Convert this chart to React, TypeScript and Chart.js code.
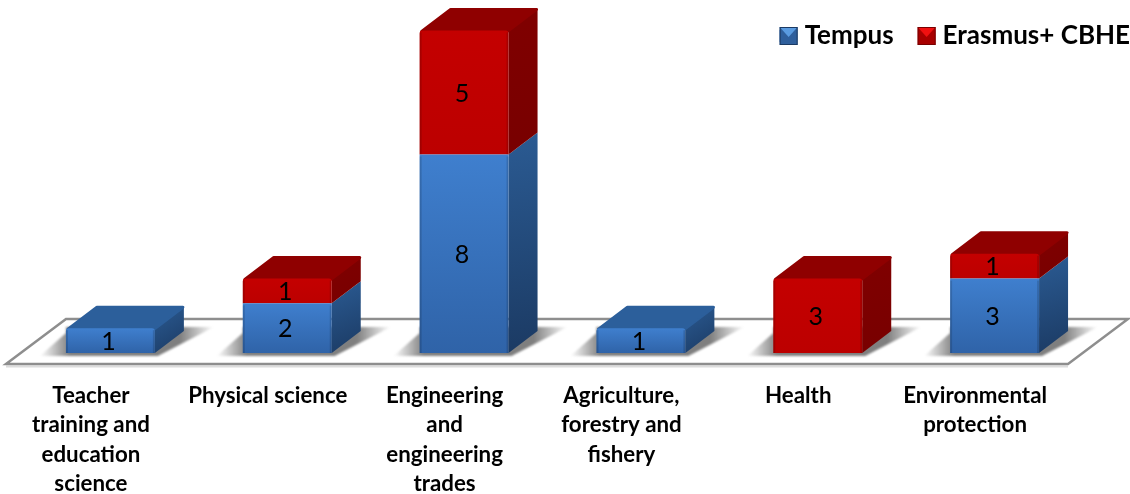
import React, { useEffect, useRef } from "react";
import { Chart, registerables } from "chart.js";

Chart.register(...registerables);

const categories = [
  ["Teacher", "training and", "education", "science"],
  ["Physical science"],
  ["Engineering", "and", "engineering", "trades"],
  ["Agriculture,", "forestry and", "fishery"],
  ["Health"],
  ["Environmental", "protection"],
];
const tempus = [1, 2, 8, 1, 0, 3];
const erasmus = [0, 1, 5, 0, 3, 1];

const DX = 29;
const DY = -22;
const FONT = "Lato, 'Open Sans', sans-serif";
const LEGEND_SIZE = 26;
const LEGEND_GAP = 24;
const LEGEND_BOX = 18;

const BLUE = { frontTop: "#3f7fce", frontBottom: "#2f63a8", top: "#2c5f9b", sideTop: "#2b5b93", sideBottom: "#1b3a63" };
const RED = { frontTop: "#c40000", frontBottom: "#bc0000", top: "#8f0000", sideTop: "#800000", sideBottom: "#780000" };

function frontFill(palette: typeof BLUE, stackBelow: number[]) {
  return (c: any) => {
    const chart = c.chart;
    const y = chart.scales.y;
    if (!y || c.dataIndex === undefined) return palette.frontTop;
    const v = c.dataset.data[c.dataIndex] as number;
    const b = stackBelow[c.dataIndex];
    const y0 = y.getPixelForValue(b + v);
    const y1 = y.getPixelForValue(b);
    if (!Number.isFinite(y0) || !Number.isFinite(y1)) return palette.frontTop;
    const g = chart.ctx.createLinearGradient(0, y0, 0, y1);
    g.addColorStop(0, palette.frontTop);
    g.addColorStop(1, palette.frontBottom);
    return g;
  };
}

function poly(ctx: CanvasRenderingContext2D, pts: number[][]) {
  ctx.beginPath();
  pts.forEach((p, i) => (i ? ctx.lineTo(p[0], p[1]) : ctx.moveTo(p[0], p[1])));
  ctx.closePath();
}

const threeD = {
  id: "threeD",
  beforeLayout(chart: any) {
    // the legend floats over the plot: it must not take room from it
    const legend = chart.legend;
    if (legend && !legend.__floating) {
      const fit = legend.fit;
      legend.fit = function () {
        fit.call(this);
        this.height = 0;
      };
      legend.__floating = true;
    }
  },
  beforeDraw(chart: any) {
    const legend = chart.legend;
    const targetRight = chart.width + LEGEND_GAP;
    const targetTop = 36 - LEGEND_SIZE / 2 - LEGEND_GAP;
    if (legend && (legend.right !== targetRight || legend.top !== targetTop)) {
      const dx = targetRight - legend.right;
      const dy = targetTop - legend.top;
      legend.left += dx;
      legend.right += dx;
      legend.top += dy;
      legend.bottom = legend.top + 100;
      legend.legendHitBoxes.forEach((h: any) => {
        h.left += dx;
        h.top += dy;
      });
    }
  },
  beforeDatasetsDraw(chart: any) {
    const { ctx, chartArea, scales } = chart;
    const base = scales.y.getPixelForValue(0);
    const front = base + 11;
    const back = base - 34;
    const l = chartArea.left - 16;
    const r = chartArea.right - 15;
    const floor = [[l, front], [r, front], [r + 60, back], [l + 60, back]];

    ctx.save();
    ctx.strokeStyle = "#dcdcdc";
    ctx.lineWidth = 2;
    ctx.beginPath();
    ctx.moveTo(l, front + 2.5);
    ctx.lineTo(r, front + 2.5);
    ctx.stroke();
    poly(ctx, floor);
    ctx.fillStyle = "#ffffff";
    ctx.fill();

    // soft shadows on the floor
    ctx.save();
    poly(ctx, floor);
    ctx.clip();
    ctx.filter = "blur(1px)";
    chart.getDatasetMeta(0).data.forEach((bar: any) => {
      const x0 = bar.x - bar.width / 2;
      const x1 = bar.x + bar.width / 2;
      const g = ctx.createLinearGradient(x0 - 26, 0, x1 + DX + 30, 0);
      const w = x1 + DX + 30 - (x0 - 26);
      g.addColorStop(0, "rgba(120,120,120,0)");
      g.addColorStop(30 / w, "rgba(120,120,120,0.95)");
      g.addColorStop((w - 34) / w, "rgba(120,120,120,0.95)");
      g.addColorStop(1, "rgba(120,120,120,0)");
      ctx.fillStyle = g;
      poly(ctx, [[x0 - 26, base + 3], [x0, base - 20], [x0, base - 26], [x1 + DX + 30, base - 26], [x1 + 3, base + 3]]);
      ctx.fill();
    });
    ctx.filter = "none";
    ctx.restore();

    poly(ctx, floor);
    ctx.strokeStyle = "#8e8e8e";
    ctx.lineWidth = 2.5;
    ctx.lineJoin = "miter";
    ctx.stroke();

    // side and top faces of every block
    categories.forEach((_, i) => {
      const segs = [
        { meta: chart.getDatasetMeta(0).data[i], v: tempus[i], pal: BLUE },
        { meta: chart.getDatasetMeta(1).data[i], v: erasmus[i], pal: RED },
      ].filter((s) => s.v > 0);
      segs.forEach((s, k) => {
        const bar = s.meta;
        const xr = bar.x + bar.width / 2;
        const xl = bar.x - bar.width / 2;
        const top = bar.y;
        const bot = bar.base;
        const g = ctx.createLinearGradient(xr, top + DY, xr + DX, bot);
        g.addColorStop(0, s.pal.sideTop);
        g.addColorStop(1, s.pal.sideBottom);
        ctx.fillStyle = g;
        poly(ctx, [[xr, top], [xr + DX, top + DY], [xr + DX, bot + DY], [xr, bot]]);
        ctx.fill();
        if (k === segs.length - 1) {
          poly(ctx, [[xl + 2, top + 1], [xr - 1, top + 1], [xr + DX - 1, top + DY + 1], [xl + DX + 2, top + DY + 1]]);
          ctx.fillStyle = s.pal.top;
          ctx.strokeStyle = s.pal.top;
          ctx.lineJoin = "round";
          ctx.lineWidth = 3;
          ctx.stroke();
          ctx.fill();
        }
      });
    });
    ctx.restore();
  },
  afterDatasetsDraw(chart: any) {
    const { ctx } = chart;
    ctx.save();
    // darker bevel along the vertical edges of the front faces
    [tempus, erasmus].forEach((values, d) => {
      const meta = chart.getDatasetMeta(d).data;
      values.forEach((v, i) => {
        if (!v) return;
        const bar = meta[i];
        const xl = bar.x - bar.width / 2;
        const xr = bar.x + bar.width / 2;
        ctx.fillStyle = "rgba(0,0,0,0.14)";
        ctx.fillRect(xl, bar.y + 2, 2, bar.base - bar.y - 2);
        ctx.fillRect(xr - 2, bar.y + 2, 2, bar.base - bar.y - 2);
      });
    });
    ctx.fillStyle = "#000000";
    ctx.font = `25px ${FONT}`;
    ctx.textAlign = "center";
    ctx.textBaseline = "middle";
    [tempus, erasmus].forEach((values, d) => {
      const meta = chart.getDatasetMeta(d).data;
      values.forEach((v, i) => {
        if (!v) return;
        const bar = meta[i];
        ctx.fillText(String(v), bar.x - 2, (bar.y + bar.base) / 2 + 1);
      });
    });
    ctx.restore();
  },
  afterDraw(chart: any) {
    const { ctx, legend } = chart;
    if (!legend) return;
    ctx.save();
    legend.legendHitBoxes.forEach((h: any, i: number) => {
      const size = LEGEND_BOX;
      const x = h.left;
      const y = 36 - size / 2;
      const pal = i === 0 ? BLUE : RED;
      ctx.fillStyle = i === 0 ? "#2f5f9c" : "#a80000";
      ctx.fillRect(x, y, size, size);
      poly(ctx, [[x, y], [x + size, y], [x + size / 2, y + size / 2 + 1]]);
      ctx.fillStyle = i === 0 ? "#5a9be0" : "#f01010";
      ctx.fill();
      ctx.strokeStyle = pal.sideBottom;
      ctx.lineWidth = 1;
      ctx.strokeRect(x + 0.5, y + 0.5, size - 1, size - 1);
    });
    ctx.restore();
  },
};

const topCorners = (values: number[], above: number[]) => (c: any) =>
  c.dataIndex !== undefined && values[c.dataIndex] > 0 && !above[c.dataIndex]
    ? { topLeft: 3, topRight: 3, bottomLeft: 0, bottomRight: 0 }
    : 0;

export default function App() {
  const ref = useRef<HTMLCanvasElement>(null);
  useEffect(() => {
    const chart = new Chart(ref.current as HTMLCanvasElement, {
      type: "bar",
      data: {
        labels: categories as any,
        datasets: [
          {
            label: "Tempus",
            data: tempus,
            backgroundColor: frontFill(BLUE, tempus.map(() => 0)) as any,
            borderWidth: 0,
            borderRadius: topCorners(tempus, erasmus) as any,
            clip: false as any,
          },
          {
            label: "Erasmus+ CBHE",
            data: erasmus,
            backgroundColor: frontFill(RED, tempus) as any,
            borderWidth: 0,
            borderRadius: topCorners(erasmus, erasmus.map(() => 0)) as any,
            clip: false as any,
          },
        ],
      },
      options: {
        responsive: false,
        animation: false,
        devicePixelRatio: 1,
        layout: { padding: { left: 22, right: 47, top: 18, bottom: 0 } },
        datasets: { bar: { barPercentage: 0.503, categoryPercentage: 1 } },
        scales: {
          x: {
            stacked: true,
            afterFit: (scale: any) => {
              scale.height = 141;
            },
            grid: { display: false },
            border: { display: false },
            ticks: {
              autoSkip: false,
              maxRotation: 0,
              minRotation: 0,
              labelOffset: -19.5,
              padding: 20,
              color: "#000000",
              font: { family: FONT, size: 22.3, weight: "bold", lineHeight: 1.323 },
            },
          },
          y: { stacked: true, display: false, min: 0, max: 13.5 },
        },
        plugins: {
          tooltip: { enabled: false },
          legend: {
            position: "top",
            align: "end",
            labels: {
              boxWidth: 12,
              boxHeight: 12,
              padding: LEGEND_GAP,
              color: "#000000",
              font: { family: FONT, size: LEGEND_SIZE, weight: "bold" },
            },
          },
        },
      },
      plugins: [threeD as any],
    });
    return () => chart.destroy();
  }, []);
  return (
    <div style={{ position: "absolute", left: 0, top: 0, width: 1130, height: 494, background: "#ffffff" }}>
      <canvas ref={ref} width={1130} height={494} style={{ display: "block" }} />
    </div>
  );
}
